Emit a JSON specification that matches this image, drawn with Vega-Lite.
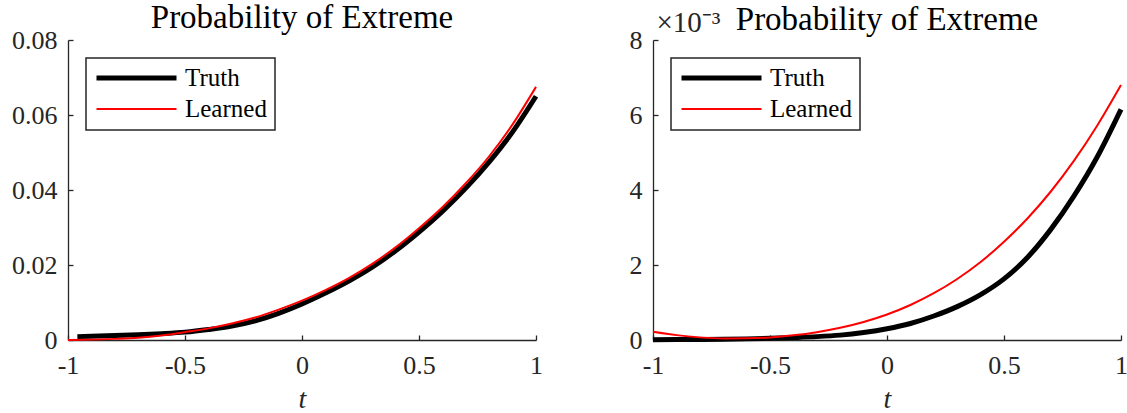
{
  "$schema": "https://vega.github.io/schema/vega-lite/v6.json",
  "background": "white",
  "padding": {"left": 11, "top": 2, "right": 0, "bottom": 0},
  "config": {
    "view": {"stroke": null},
    "font": "Liberation Serif",
    "axis": {
      "domainColor": "#262626", "domainWidth": 1.3,
      "tickColor": "#262626", "tickWidth": 1.3, "tickSize": -5,
      "grid": false,
      "labelFont": "Liberation Serif", "labelFontSize": 26, "labelColor": "#262626",
      "titleFont": "Liberation Serif", "titleFontSize": 28, "titleFontStyle": "italic", "titleFontWeight": "normal", "titleColor": "#262626"
    },
    "axisX": {"labelPadding": 17, "labelFlush": false},
    "axisY": {"labelPadding": 16},
    "title": {"font": "Liberation Serif", "fontSize": 33, "fontWeight": "normal", "color": "#000000", "frame": "group", "anchor": "middle", "offset": -8},
    "legend": {
      "orient": "top-left", "offset": 18, "title": null,
      "symbolType": "stroke", "symbolSize": 6400, "clipHeight": 24,
      "labelFont": "Liberation Serif", "labelFontSize": 25, "labelColor": "#000000", "labelOffset": 6,
      "strokeColor": "#262626", "strokeWidth": 1.5, "fillColor": "#ffffff",
      "padding": 8, "rowPadding": 6, "cornerRadius": 0
    },
    "concat": {"spacing": 83}
  },
  "hconcat": [
    {
      "width": 468, "height": 300,
      "title": "Probability of Extreme",
      "data": {"values": [
        {"t": -0.96, "p": 0.0009, "series": "Truth"},
        {"t": -0.9, "p": 0.0010, "series": "Truth"},
        {"t": -0.8, "p": 0.0012, "series": "Truth"},
        {"t": -0.7, "p": 0.0014, "series": "Truth"},
        {"t": -0.6, "p": 0.0017, "series": "Truth"},
        {"t": -0.5, "p": 0.0021, "series": "Truth"},
        {"t": -0.4, "p": 0.0028, "series": "Truth"},
        {"t": -0.3, "p": 0.0037, "series": "Truth"},
        {"t": -0.2, "p": 0.0051, "series": "Truth"},
        {"t": -0.1, "p": 0.0071, "series": "Truth"},
        {"t": 0.0, "p": 0.0096, "series": "Truth"},
        {"t": 0.1, "p": 0.0125, "series": "Truth"},
        {"t": 0.2, "p": 0.0157, "series": "Truth"},
        {"t": 0.3, "p": 0.0194, "series": "Truth"},
        {"t": 0.4, "p": 0.0238, "series": "Truth"},
        {"t": 0.5, "p": 0.0288, "series": "Truth"},
        {"t": 0.6, "p": 0.0343, "series": "Truth"},
        {"t": 0.7, "p": 0.0405, "series": "Truth"},
        {"t": 0.8, "p": 0.0475, "series": "Truth"},
        {"t": 0.9, "p": 0.0555, "series": "Truth"},
        {"t": 1.0, "p": 0.0650, "series": "Truth"},
        {"t": -1.0, "p": 0.0000, "series": "Learned"},
        {"t": -0.9, "p": 0.0001, "series": "Learned"},
        {"t": -0.8, "p": 0.0003, "series": "Learned"},
        {"t": -0.7, "p": 0.0006, "series": "Learned"},
        {"t": -0.6, "p": 0.0012, "series": "Learned"},
        {"t": -0.5, "p": 0.0021, "series": "Learned"},
        {"t": -0.4, "p": 0.0031, "series": "Learned"},
        {"t": -0.3, "p": 0.0044, "series": "Learned"},
        {"t": -0.2, "p": 0.0060, "series": "Learned"},
        {"t": -0.1, "p": 0.0081, "series": "Learned"},
        {"t": 0.0, "p": 0.0105, "series": "Learned"},
        {"t": 0.1, "p": 0.0133, "series": "Learned"},
        {"t": 0.2, "p": 0.0165, "series": "Learned"},
        {"t": 0.3, "p": 0.0203, "series": "Learned"},
        {"t": 0.4, "p": 0.0247, "series": "Learned"},
        {"t": 0.5, "p": 0.0298, "series": "Learned"},
        {"t": 0.6, "p": 0.0354, "series": "Learned"},
        {"t": 0.7, "p": 0.0418, "series": "Learned"},
        {"t": 0.8, "p": 0.0490, "series": "Learned"},
        {"t": 0.9, "p": 0.0575, "series": "Learned"},
        {"t": 1.0, "p": 0.0675, "series": "Learned"}
      ]},
      "mark": {"type": "line", "interpolate": "monotone"},
      "encoding": {
        "x": {"field": "t", "type": "quantitative", "scale": {"domain": [-1, 1]},
              "axis": {"values": [-1, -0.5, 0, 0.5, 1], "title": "t", "titlePadding": 7, "labelExpr": "replace(format(datum.value, '~g'), '−', '-')"}},
        "y": {"field": "p", "type": "quantitative", "scale": {"domain": [0, 0.08]},
              "axis": {"values": [0, 0.02, 0.04, 0.06, 0.08], "title": null, "format": "~g"}},
        "color": {"field": "series", "type": "nominal", "scale": {"domain": ["Truth", "Learned"], "range": ["#000000", "#ff0000"]}},
        "strokeWidth": {"field": "series", "type": "nominal", "scale": {"domain": ["Truth", "Learned"], "range": [5, 2]}}
      }
    },
    {
      "width": 468, "height": 300,
      "title": {"text": "Probability of Extreme", "offset": -29},
      "data": {"values": [
        {"t": -1.0, "p": 0.01, "series": "Truth"},
        {"t": -0.9, "p": 0.012, "series": "Truth"},
        {"t": -0.8, "p": 0.015, "series": "Truth"},
        {"t": -0.7, "p": 0.02, "series": "Truth"},
        {"t": -0.6, "p": 0.03, "series": "Truth"},
        {"t": -0.5, "p": 0.045, "series": "Truth"},
        {"t": -0.4, "p": 0.065, "series": "Truth"},
        {"t": -0.3, "p": 0.09, "series": "Truth"},
        {"t": -0.2, "p": 0.13, "series": "Truth"},
        {"t": -0.1, "p": 0.20, "series": "Truth"},
        {"t": 0.0, "p": 0.30, "series": "Truth"},
        {"t": 0.1, "p": 0.44, "series": "Truth"},
        {"t": 0.2, "p": 0.64, "series": "Truth"},
        {"t": 0.3, "p": 0.89, "series": "Truth"},
        {"t": 0.4, "p": 1.21, "series": "Truth"},
        {"t": 0.5, "p": 1.63, "series": "Truth"},
        {"t": 0.6, "p": 2.2, "series": "Truth"},
        {"t": 0.7, "p": 2.95, "series": "Truth"},
        {"t": 0.8, "p": 3.85, "series": "Truth"},
        {"t": 0.9, "p": 4.9, "series": "Truth"},
        {"t": 1.0, "p": 6.15, "series": "Truth"},
        {"t": -1.0, "p": 0.22, "series": "Learned"},
        {"t": -0.9, "p": 0.13, "series": "Learned"},
        {"t": -0.8, "p": 0.07, "series": "Learned"},
        {"t": -0.7, "p": 0.04, "series": "Learned"},
        {"t": -0.6, "p": 0.045, "series": "Learned"},
        {"t": -0.5, "p": 0.068, "series": "Learned"},
        {"t": -0.4, "p": 0.125, "series": "Learned"},
        {"t": -0.3, "p": 0.209, "series": "Learned"},
        {"t": -0.2, "p": 0.325, "series": "Learned"},
        {"t": -0.1, "p": 0.48, "series": "Learned"},
        {"t": 0.0, "p": 0.68, "series": "Learned"},
        {"t": 0.1, "p": 0.934, "series": "Learned"},
        {"t": 0.2, "p": 1.247, "series": "Learned"},
        {"t": 0.3, "p": 1.627, "series": "Learned"},
        {"t": 0.4, "p": 2.08, "series": "Learned"},
        {"t": 0.5, "p": 2.62, "series": "Learned"},
        {"t": 0.6, "p": 3.24, "series": "Learned"},
        {"t": 0.7, "p": 3.96, "series": "Learned"},
        {"t": 0.8, "p": 4.79, "series": "Learned"},
        {"t": 0.9, "p": 5.735, "series": "Learned"},
        {"t": 1.0, "p": 6.80, "series": "Learned"}
      ]},
      "mark": {"type": "line", "interpolate": "monotone"},
      "encoding": {
        "x": {"field": "t", "type": "quantitative", "scale": {"domain": [-1, 1]},
              "axis": {"values": [-1, -0.5, 0, 0.5, 1], "title": "t", "titlePadding": 7, "labelExpr": "replace(format(datum.value, '~g'), '−', '-')"}},
        "y": {"field": "p", "type": "quantitative", "scale": {"domain": [0, 8]},
              "axis": {"values": [0, 2, 4, 6, 8], "format": "~g", "title": "×10⁻³", "titleAngle": 0, "titleAlign": "left", "titleBaseline": "alphabetic", "titleX": 3, "titleY": -9, "titleFontStyle": "normal", "titleFontSize": 29}},
        "color": {"field": "series", "type": "nominal", "scale": {"domain": ["Truth", "Learned"], "range": ["#000000", "#ff0000"]}},
        "strokeWidth": {"field": "series", "type": "nominal", "scale": {"domain": ["Truth", "Learned"], "range": [5, 2]}}
      }
    }
  ],
  "resolve": {"scale": {"color": "independent", "strokeWidth": "independent"}, "legend": {"color": "independent", "strokeWidth": "independent"}}
}
